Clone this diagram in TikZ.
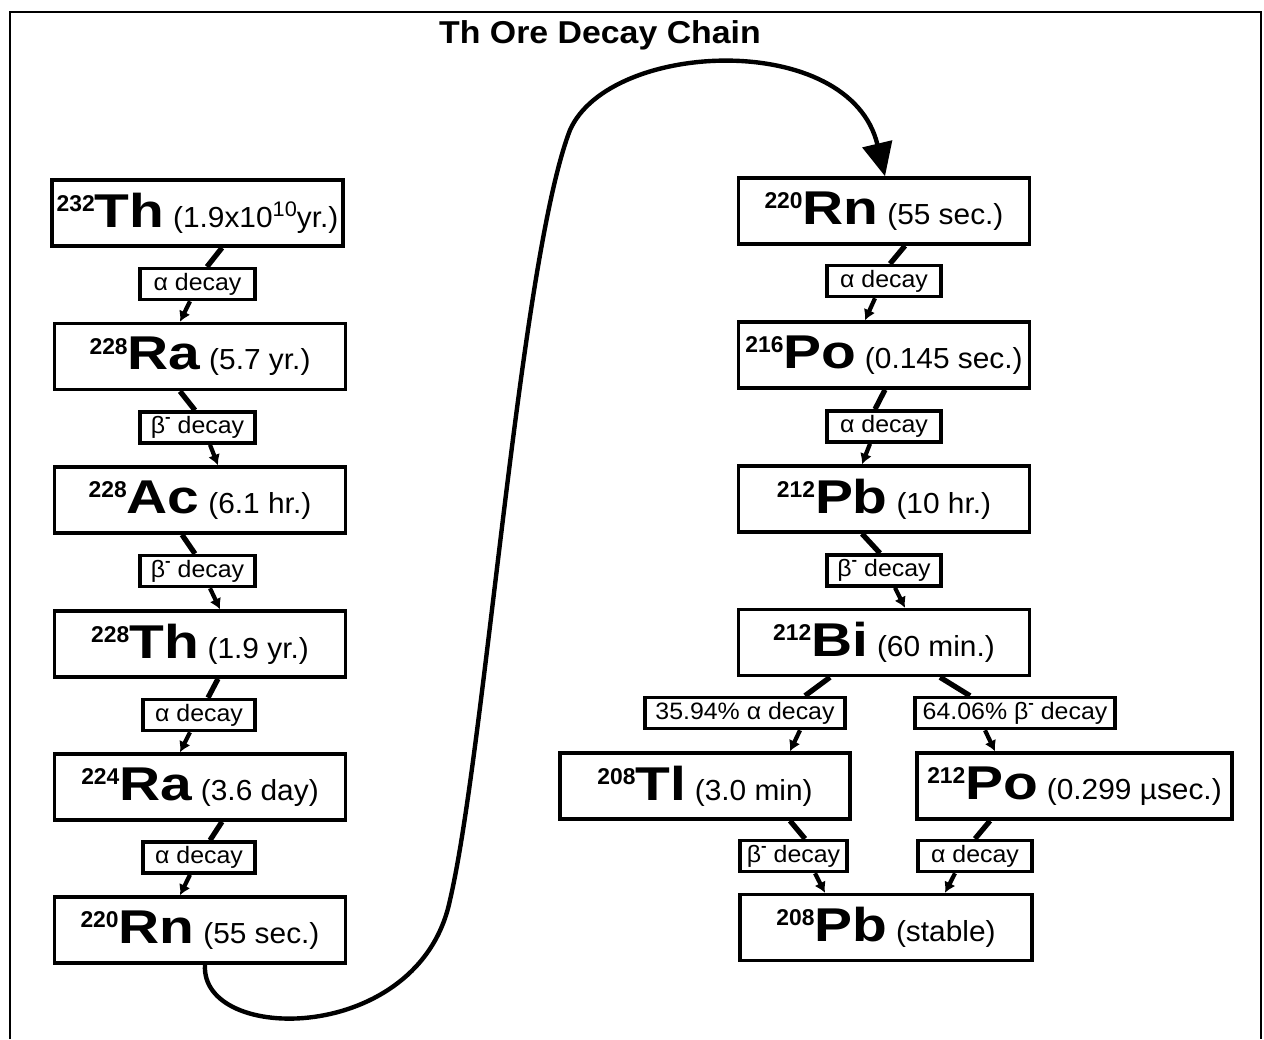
\documentclass[tikz,border=0pt]{standalone}
\usepackage{fontspec}
\setmainfont{Liberation Sans}
\newfontfamily\elfont[FakeStretch=1.2]{Liberation Sans}
\newfontfamily\hlfont[FakeStretch=1.03]{Liberation Sans}
\newfontfamily\labfont[FakeStretch=1.05]{Liberation Sans}
\newfontfamily\titfont[FakeStretch=1.07]{Liberation Sans}
\usetikzlibrary{calc,arrows.meta}
\newcommand{\isot}[3]{\raisebox{9pt}{\fontsize{13}{13}\selectfont\bfseries #1}{\elfont\fontsize{27}{27}\selectfont\bfseries #2}\hspace{5pt}{\hlfont\fontsize{16.5}{16.5}\selectfont #3}}
\newcommand{\bminus}{β\raisebox{0.45em}{\fontsize{9}{9}\selectfont\bfseries -}}
\begin{document}
\begin{tikzpicture}[x=0.02cm,y=-0.02cm,
  iso/.style={draw, line width=2pt, minimum width=5.82cm, minimum height=1.32cm, inner sep=0pt, fill=white},
  lab/.style={draw, line width=2pt, minimum height=0.62cm, inner sep=0pt, fill=white, font=\labfont\fontsize{13.5}{13.5}\selectfont},
  con/.style={line width=3pt},
  arr/.style={line width=2.4pt, -{Latex[length=6pt,width=7pt]}},
  curve/.style={line width=2.5pt, -{Triangle[length=19pt,width=17pt]}}]
\useasboundingbox (0,0) rectangle (1264,1039);
% frame
\draw[line width=1.4pt] (10,1039) -- (10,12) -- (1261,12) -- (1261,1039);
\node[font=\titfont\fontsize{18}{18}\selectfont\bfseries] (title) at (600,35) {Th Ore Decay Chain};
% left column
\node[iso] (th232) at (197.5,213) {\isot{232}{Th}{(1.9x10\raisebox{6pt}{\fontsize{12}{12}\selectfont 10}yr.)}};
\node[lab, minimum width=2.3cm] (l1) at (197.5,284) {α decay};
\node[iso] (ra228) at (200,356.5) {\isot{228}{Ra}{(5.7 yr.)}};
\node[lab, minimum width=2.3cm] (l2) at (197.5,427.5) {\bminus\ decay};
\node[iso] (ac228) at (200,500) {\isot{228}{Ac}{(6.1 hr.)}};
\node[lab, minimum width=2.3cm] (l3) at (197.5,571) {\bminus\ decay};
\node[iso] (th228) at (200,644) {\isot{228}{Th}{(1.9 yr.)}};
\node[lab, minimum width=2.24cm] (l4) at (199,715) {α decay};
\node[iso] (ra224) at (200,787) {\isot{224}{Ra}{(3.6 day)}};
\node[lab, minimum width=2.24cm] (l5) at (199,857.5) {α decay};
\node[iso] (rnL) at (200,930) {\isot{220}{Rn}{(55 sec.)}};
% right column
\node[iso] (rnR) at (884,211) {\isot{220}{Rn}{(55 sec.)}};
\node[lab, minimum width=2.28cm] (r1) at (884,281) {α decay};
\node[iso] (po216) at (884,355) {\isot{216}{Po}{(0.145 sec.)}};
\node[lab, minimum width=2.28cm] (r2) at (884,426.5) {α decay};
\node[iso] (pb212) at (884,499) {\isot{212}{Pb}{(10 hr.)}};
\node[lab, minimum width=2.28cm] (r3) at (884,570.5) {\bminus\ decay};
\node[iso] (bi212) at (884,642.5) {\isot{212}{Bi}{(60 min.)}};
\node[lab, minimum width=4cm] (r35) at (745,713) {35.94\% α decay};
\node[lab, minimum width=4cm] (r64) at (1015,713) {64.06\% \bminus\ decay};
\node[iso, minimum width=5.8cm] (tl208) at (705,786) {\isot{208}{Tl}{(3.0 min)}};
\node[iso, minimum width=6.3cm] (po212) at (1074.5,786) {\isot{212}{Po}{(0.299 µsec.)}};
\node[lab, minimum width=2.14cm] (rb) at (793.5,856) {\bminus\ decay};
\node[lab, minimum width=2.28cm] (ra) at (975,856) {α decay};
\node[iso, minimum width=5.84cm] (pb208) at (886,927.5) {\isot{208}{Pb}{(stable)}};
% left connectors
\draw[con] ($(th232.south)+(24.5,0)$) -- ($(l1.north)+(9.5,0)$);
\draw[arr] ($(l1.south)+(-7.5,0)$) -- ($(ra228.north)+(-20,0)$);
\draw[con] ($(ra228.south)+(-20,0)$) -- ($(l2.north)+(-2.5,0)$);
\draw[arr] ($(l2.south)+(12.5,0)$) -- ($(ac228.north)+(18,0)$);
\draw[con] ($(ac228.south)+(-18,0)$) -- ($(l3.north)+(-2.5,0)$);
\draw[arr] ($(l3.south)+(12.5,0)$) -- ($(th228.north)+(20,0)$);
\draw[con] ($(th228.south)+(18,0)$) -- ($(l4.north)+(9,0)$);
\draw[arr] ($(l4.south)+(-9,0)$) -- ($(ra224.north)+(-20,0)$);
\draw[con] ($(ra224.south)+(22,0)$) -- ($(l5.north)+(11,0)$);
\draw[arr] ($(l5.south)+(-9,0)$) -- ($(rnL.north)+(-20,0)$);
% right connectors
\draw[con] ($(rnR.south)+(21,0)$) -- ($(r1.north)+(6,0)$);
\draw[arr] ($(r1.south)+(-9,0)$) -- ($(po216.north)+(-19,0)$);
\draw[con] ($(po216.south)+(1,0)$) -- ($(r2.north)+(-9,0)$);
\draw[arr] ($(r2.south)+(-14,0)$) -- ($(pb212.north)+(-22,0)$);
\draw[con] ($(pb212.south)+(-22,0)$) -- ($(r3.north)+(-4,0)$);
\draw[arr] ($(r3.south)+(11,0)$) -- ($(bi212.north)+(21,0)$);
\draw[con] ($(bi212.south)+(-54,0)$) -- ($(r35.north)+(60,0)$);
\draw[arr] ($(r35.south)+(55,0)$) -- ($(tl208.north)+(85,0)$);
\draw[con] ($(bi212.south)+(56,0)$) -- ($(r64.north)+(-45,0)$);
\draw[arr] ($(r64.south)+(-30,0)$) -- ($(po212.north)+(-79.5,0)$);
\draw[con] ($(tl208.south)+(85,0)$) -- ($(rb.north)+(11.5,0)$);
\draw[arr] ($(rb.south)+(21.5,0)$) -- ($(pb208.north)+(-61,0)$);
\draw[con] ($(po212.south)+(-84.5,0)$) -- ($(ra.north)+(0,0)$);
\draw[arr] ($(ra.south)+(-20,0)$) -- ($(pb208.north)+(59,0)$);
% S-curve
\draw[curve] ($(rnL.south)+(5,0)$) .. controls (200,1045) and (420,1045) .. (450,900)
  .. controls (485,750) and (520,260) .. (570,130)
  .. controls (610,40) and (850,30) .. ($(rnR.north)+(1,0)$);
\end{tikzpicture}
\end{document}
